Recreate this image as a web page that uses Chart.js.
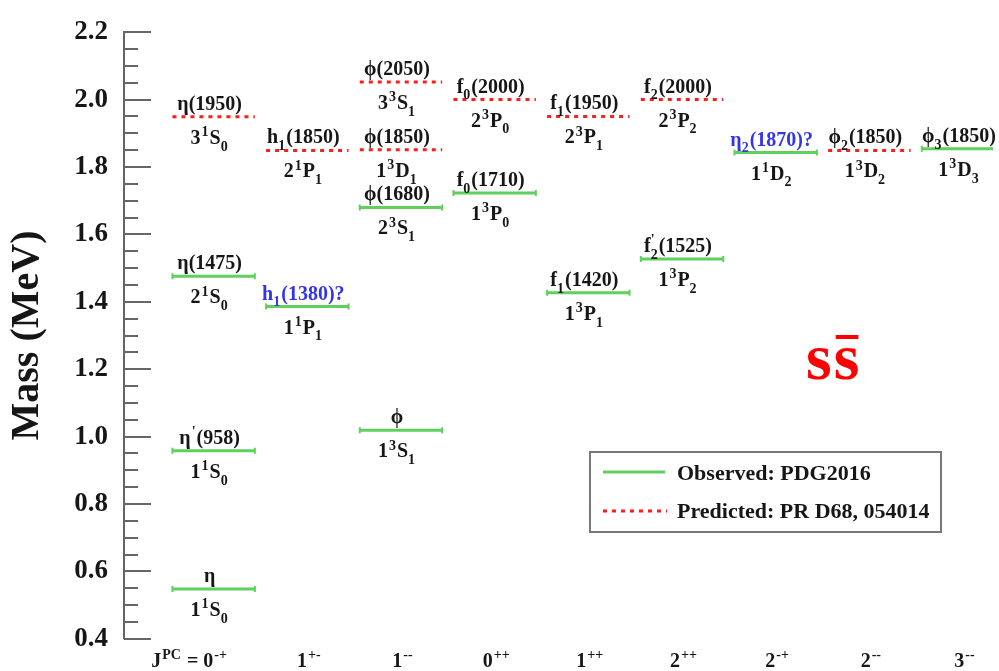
<!DOCTYPE html>
<html>
<head>
<meta charset="utf-8">
<script src="https://cdn.jsdelivr.net/npm/chart.js@4.4.1/dist/chart.umd.min.js"></script>
<style>
  html, body { margin: 0; padding: 0; background: #fff; }
  canvas { display: block; }
</style>
</head>
<body>
<canvas id="levels" width="999" height="671"></canvas>
<script>
// J^PC columns
const jpcLabels = ['0^{-+}', '1^{+-}', '1^{--}', '0^{++}', '1^{++}', '2^{++}', '2^{-+}', '2^{--}', '3^{--}'];
const axisPrefix = 'J^{PC} = ';

// observed states (PDG2016)
const obsCat = [0, 0, 0, 1, 2, 2, 3, 4, 5, 6, 8];
const obsMass = [0.548, 0.958, 1.476, 1.386, 1.019, 1.680, 1.723, 1.427, 1.527, 1.843, 1.854];
const obsName = ['η', 'η^{\'}(958)', 'η(1475)', 'h_{1}(1380)?', 'ϕ', 'ϕ(1680)', 'f_{0}(1710)', 'f_{1}(1420)', 'f_{2}^{\'}(1525)', 'η_{2}(1870)?', 'ϕ_{3}(1850)'];
const obsState = ['1^{1}S_{0}', '1^{1}S_{0}', '2^{1}S_{0}', '1^{1}P_{1}', '1^{3}S_{1}', '2^{3}S_{1}', '1^{3}P_{0}', '1^{3}P_{1}', '1^{3}P_{2}', '1^{1}D_{2}', '1^{3}D_{3}'];

// predicted states (PR D68, 054014)
const predCat = [0, 1, 2, 2, 3, 4, 5, 7];
const predMass = [1.949, 1.849, 2.052, 1.851, 2.000, 1.950, 2.000, 1.849];
const predName = ['η(1950)', 'h_{1}(1850)', 'ϕ(2050)', 'ϕ(1850)', 'f_{0}(2000)', 'f_{1}(1950)', 'f_{2}(2000)', 'ϕ_{2}(1850)'];
const predState = ['3^{1}S_{0}', '2^{1}P_{1}', '3^{3}S_{1}', '1^{3}D_{1}', '2^{3}P_{0}', '2^{3}P_{1}', '2^{3}P_{2}', '1^{3}D_{2}'];

const yTicks = [0.4, 0.6, 0.8, 1.0, 1.2, 1.4, 1.6, 1.8, 2.0, 2.2];

const GREEN = '#5fd05f';
const RED = '#ff1c1c';
const BLUE = '#3535e8';
const INK = '#161616';
const HALF = 0.44;
const FONT = '"Liberation Serif", "Times New Roman", serif';

function bold(size) { return 'bold ' + size + 'px ' + FONT; }

// tiny TLatex-like parser: ^{..} superscript, _{..} subscript
function parseRich(s) {
  const toks = [];
  let cur = '';
  for (let i = 0; i < s.length; i++) {
    const c = s[i];
    if ((c === '^' || c === '_') && s[i + 1] === '{') {
      if (cur) { toks.push({ text: cur, mode: 'n' }); cur = ''; }
      const end = s.indexOf('}', i);
      toks.push({ text: s.slice(i + 2, end), mode: c === '^' ? 'sup' : 'sub' });
      i = end;
    } else {
      cur += c;
    }
  }
  if (cur) toks.push({ text: cur, mode: 'n' });
  return toks;
}

function layoutRich(ctx, s, size) {
  const toks = parseRich(s);
  const items = [];
  let x = 0;
  const small = size * 0.7;
  const off = m => (m === 'sup' ? -size * 0.38 : size * 0.34);
  for (let i = 0; i < toks.length; i++) {
    const t = toks[i];
    if (t.mode === 'n') {
      ctx.font = bold(size);
      items.push({ t: t.text, x, dy: 0, size });
      x += ctx.measureText(t.text).width;
    } else {
      const n = toks[i + 1];
      const pair = n && n.mode !== 'n' && n.mode !== t.mode;
      x += t.mode === 'sup' && !pair ? 1 : 0;
      ctx.font = bold(small);
      let w = ctx.measureText(t.text).width;
      items.push({ t: t.text, x, dy: off(t.mode), size: small });
      if (pair) {
        w = Math.max(w, ctx.measureText(n.text).width);
        items.push({ t: n.text, x, dy: off(n.mode), size: small });
        i++;
      }
      x += w + 1;
    }
  }
  return { items, width: x };
}

function drawRich(ctx, s, x, baseline, size, color, align) {
  const lay = layoutRich(ctx, s, size);
  let x0 = x;
  if (align === 'center') x0 = x - lay.width / 2;
  else if (align === 'right') x0 = x - lay.width;
  ctx.fillStyle = color;
  ctx.textAlign = 'left';
  ctx.textBaseline = 'alphabetic';
  lay.items.forEach(it => {
    ctx.font = bold(it.size);
    ctx.fillText(it.t, x0 + it.x, baseline + it.dy);
  });
  return lay.width;
}

function levelSet(cat, mass, observed) {
  return {
    data: [{ x: cat - HALF, y: mass }, { x: cat + HALF, y: mass }],
    borderColor: observed ? GREEN : RED,
    borderWidth: 3,
    borderDash: observed ? [] : [4, 5],
    pointRadius: observed ? 3 : 0,
    pointStyle: 'line',
    rotation: 90,
    pointBorderColor: observed ? GREEN : RED,
    pointBorderWidth: 2,
    fill: false,
    tension: 0
  };
}

const datasets = [];
obsCat.forEach((c, i) => datasets.push(levelSet(c, obsMass[i], true)));
predCat.forEach((c, i) => datasets.push(levelSet(c, predMass[i], false)));

const decorations = {
  id: 'decorations',
  afterDatasetsDraw(chart) {
    const ctx = chart.ctx;
    const xs = chart.scales.x;
    const ys = chart.scales.y;
    const area = chart.chartArea;

    // inward ticks, major every 0.2, minor every 0.05
    ctx.save();
    ctx.strokeStyle = '#666';
    ctx.lineWidth = 2;
    for (let k = 0; k <= 36; k++) {
      const v = 0.4 + k * 0.05;
      const py = Math.round(ys.getPixelForValue(v));
      const len = k % 4 === 0 ? 27 : 14;
      ctx.beginPath();
      ctx.moveTo(area.left, py);
      ctx.lineTo(area.left + len, py);
      ctx.stroke();
    }
    ctx.restore();

    // level labels
    ctx.save();
    const label = (cat, mass, name, state) => {
      const cx = xs.getPixelForValue(cat) - 4;
      const py = ys.getPixelForValue(mass);
      const col = name.endsWith('?') ? BLUE : INK;
      drawRich(ctx, name, cx, py - 7, 20, col, 'center');
      drawRich(ctx, state, cx, py + 27, 20, INK, 'center');
    };
    obsCat.forEach((c, i) => label(c, obsMass[i], obsName[i], obsState[i]));
    predCat.forEach((c, i) => label(c, predMass[i], predName[i], predState[i]));

    // J^PC axis labels
    jpcLabels.forEach((lab, i) => {
      const cx = xs.getPixelForValue(i) + 2;
      const w = drawRich(ctx, lab, cx, 667, 20, INK, 'center');
      if (i === 0) drawRich(ctx, axisPrefix, cx - w / 2, 667, 20, INK, 'right');
    });

    // legend box
    const lx = 590, ly = 452, lw = 351, lh = 80;
    ctx.strokeStyle = '#777';
    ctx.lineWidth = 2;
    ctx.strokeRect(lx, ly, lw, lh);
    ctx.lineWidth = 3;
    ctx.strokeStyle = GREEN;
    ctx.beginPath(); ctx.moveTo(603, 472); ctx.lineTo(665, 472); ctx.stroke();
    ctx.strokeStyle = RED;
    ctx.setLineDash([4, 5]);
    ctx.beginPath(); ctx.moveTo(603, 511); ctx.lineTo(667, 511); ctx.stroke();
    ctx.setLineDash([]);
    ctx.fillStyle = INK;
    ctx.font = bold(22);
    ctx.textAlign = 'left';
    ctx.textBaseline = 'alphabetic';
    ctx.fillText('Observed: PDG2016', 677, 480);
    ctx.fillText('Predicted: PR D68, 054014', 677, 518);

    // s sbar tag
    ctx.fillStyle = '#ff0000';
    ctx.font = bold(66);
    const sw = ctx.measureText('s').width;
    ctx.fillText('s', 806, 379);
    ctx.fillText('s', 808 + sw, 379);
    ctx.fillRect(810 + sw, 335, sw - 3, 4);
    ctx.restore();
  }
};

new Chart(document.getElementById('levels'), {
  type: 'line',
  data: { datasets },
  plugins: [decorations],
  options: {
    responsive: false,
    animation: false,
    layout: { padding: { top: 17, bottom: 21, left: 0, right: 0 } },
    plugins: { legend: { display: false }, tooltip: { enabled: false } },
    scales: {
      x: { type: 'linear', min: -0.957, max: 8.32, display: false },
      y: {
        type: 'linear',
        min: 0.4,
        max: 2.2,
        afterBuildTicks: scale => { scale.ticks = yTicks.map(v => ({ value: v })); },
        afterFit: scale => { scale.width = 124; },
        ticks: {
          color: INK,
          padding: 16,
          font: { family: FONT, size: 27, weight: 'bold' },
          callback: v => Number(v).toFixed(1)
        },
        grid: { drawOnChartArea: false, drawTicks: false },
        border: { display: true, color: '#666', width: 2 },
        title: {
          display: true,
          text: 'Mass (MeV)',
          color: INK,
          font: { family: FONT, size: 40, weight: 'bold' },
          padding: { top: 4, bottom: 4 }
        }
      }
    }
  }
});
</script>
</body>
</html>
